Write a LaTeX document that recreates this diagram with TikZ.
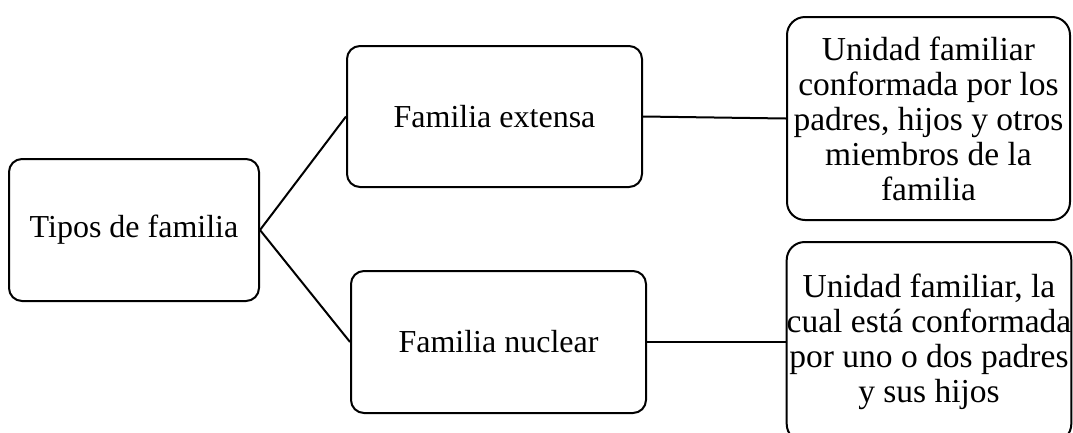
\documentclass[tikz,border=0pt]{standalone}
\usepackage{fontspec}
\setmainfont{Liberation Serif}
\begin{document}
\begin{tikzpicture}[x=1pt,y=-1pt,
  box/.style={draw=black,line width=2pt,rounded corners=13pt,inner sep=0pt,align=center},
  mainbox/.style={box,font=\fontsize{32}{36}\selectfont},
  descbox/.style={box,rounded corners=18pt,font=\fontsize{33.5}{35}\selectfont},
  link/.style={line width=2pt}]
\useasboundingbox (0,0) rectangle (1073,432);
\node[mainbox,minimum width=250pt,minimum height=142pt] (tipos) at (134,230) {Tipos de familia};
\node[mainbox,minimum width=295pt,minimum height=141pt] (ext) at (494.5,116.5) {Familia extensa};
\node[mainbox,minimum width=295pt,minimum height=142pt] (nuc) at (498.5,342) {Familia nuclear};
\node[descbox,minimum width=283pt,minimum height=203pt] (dext) at (928.5,118.5) {Unidad familiar\\conformada por los\\padres, hijos y otros\\miembros de la\\familia};
\node[descbox,minimum width=282pt,minimum height=200pt] (dnuc) at (929,342) {Unidad familiar, la\\cual está conformada\\por uno o dos padres\\y sus hijos};
\draw[link] (tipos.east) -- (ext.west);
\draw[link] (tipos.east) -- (nuc.west);
\draw[link] (ext.east) -- (dext.west);
\draw[link] (nuc.east) -- (dnuc.west);
\end{tikzpicture}
\end{document}
